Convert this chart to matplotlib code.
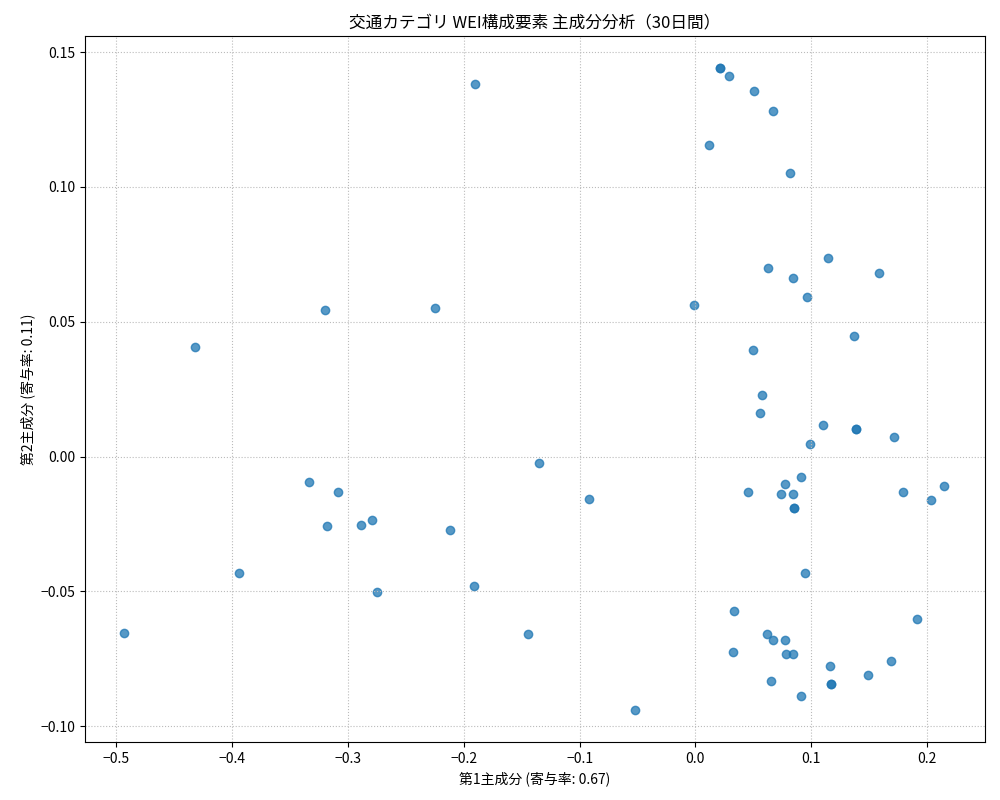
import matplotlib
matplotlib.use("Agg")
import matplotlib.pyplot as plt

plt.rcParams['font.family'] = ['Noto Sans CJK JP', 'DejaVu Sans']

pc1 = [0.0216,0.0216,0.0289,0.0506,0.0670,0.0116,0.0818,-0.190,0.0627,0.1146,0.1587,0.0843,0.0964,-0.0014,
       -0.2248,-0.3199,-0.4322,0.1370,0.0497,0.0575,0.0558,0.1102,0.1388,0.1388,0.1716,0.0990,-0.1353,0.0911,
       0.0773,0.0453,0.0739,0.0843,0.1794,0.2036,0.2148,0.0851,0.0851,-0.0921,-0.3332,-0.3082,-0.3185,-0.2883,
       -0.2796,-0.2122,-0.3942,-0.2753,-0.1915,0.0947,-0.4931,-0.1449,0.0332,0.0617,0.0670,0.0773,0.1915,
       0.0324,0.0782,0.0843,0.1162,0.1690,0.1491,0.1171,0.1171,0.0653,0.0911,-0.0523]
pc2 = [0.1441,0.1441,0.1411,0.1356,0.1282,0.1155,0.1051,0.1382,0.0698,0.0736,0.0680,0.0661,0.0591,0.0561,
       0.0553,0.0542,0.0405,0.0446,0.0397,0.0227,0.0160,0.0119,0.0104,0.0104,0.0074,0.0048,-0.0022,-0.0074,
       -0.0100,-0.0130,-0.0137,-0.0137,-0.0130,-0.0160,-0.0108,-0.0189,-0.0189,-0.0156,-0.0093,-0.0130,-0.0256,-0.0253,
       -0.0234,-0.0271,-0.0431,-0.0502,-0.0479,-0.0431,-0.0654,-0.0658,-0.0572,-0.0658,-0.0680,-0.0680,-0.0602,
       -0.0725,-0.0732,-0.0732,-0.0776,-0.0758,-0.0810,-0.0843,-0.0843,-0.0832,-0.0888,-0.0940]

fig, ax = plt.subplots(figsize=(10, 8), dpi=100)
ax.scatter(pc1, pc2, alpha=0.75, color='#1f77b4')
ax.set_title('交通カテゴリ WEI構成要素 主成分分析（30日間）')
ax.set_xlabel('第1主成分 (寄与率: 0.67)')
ax.set_ylabel('第2主成分 (寄与率: 0.11)')
ax.grid(True, linestyle=':', color='#bbbbbb')
ax.set_xlim(-0.527, 0.25)
ax.set_ylim(-0.106, 0.156)
fig.subplots_adjust(left=0.085, right=0.985, top=0.955, bottom=0.072)
fig.savefig('out.png')
